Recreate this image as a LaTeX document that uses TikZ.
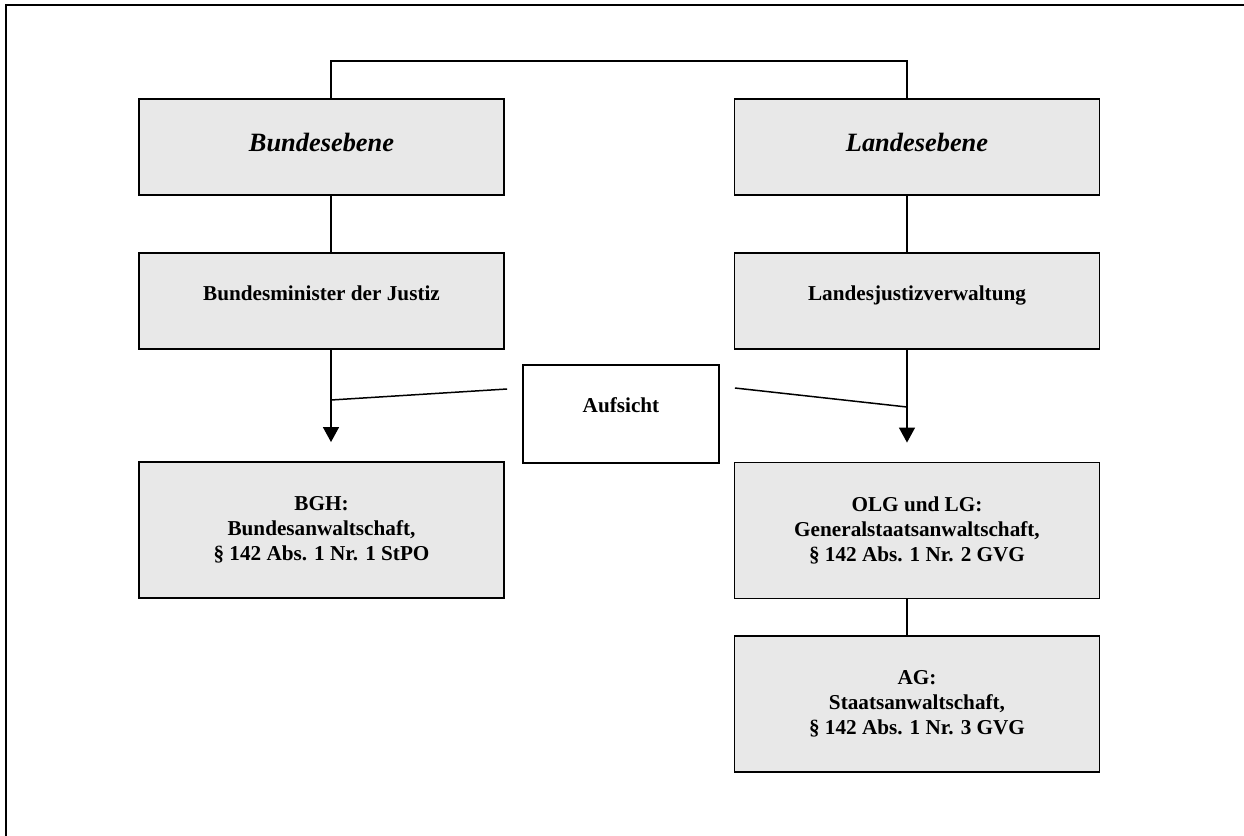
\documentclass[tikz,border=0pt]{standalone}
\usepackage{fontspec}
\setmainfont{Liberation Serif}
\usetikzlibrary{arrows.meta,calc}
\definecolor{boxgray}{RGB}{232,232,232}
\begin{document}
\begin{tikzpicture}[x=0.5pt,y=-0.5pt,
  box/.style={draw=black, line width=0.95pt, fill=boxgray, inner sep=0pt,
    minimum width=182.5pt, align=center,
    font=\fontsize{10.6}{12.5}\selectfont\bfseries},
  headbox/.style={box, text height=26pt, text depth=22pt,
    font=\fontsize{13.2}{15}\selectfont\bfseries\itshape},
  midbox/.style={box, text height=23.5pt, text depth=24.5pt},
  lowbox/.style={box, minimum height=68pt},
  notebox/.style={box, fill=white, minimum width=98pt,
    text height=23.5pt, text depth=25.5pt},
  link/.style={draw=black, line width=0.75pt},
  oversight/.style={link, -{Triangle[width=8pt,length=7.5pt]}, shorten >=9.5pt},
]
\useasboundingbox (0,0) rectangle (1244,836);
% page frame
\draw[line width=1.1pt] (6,836) -- (6,5) -- (1244,5);

% boxes
\node[headbox] (bund) at (321.5,147) {Bundesebene};
\node[headbox] (land) at (917,147) {Landesebene};
\node[midbox] (bmj) at (321.5,301) {Bundesminister der Justiz};
\node[midbox] (lj) at (917,301) {Landesjustizverwaltung};
\node[notebox] (aufs) at (621,414) {Aufsicht};
\node[lowbox] (bgh) at (321.5,530) {BGH:\\Bundesanwaltschaft,\\§ 142 Abs. 1 Nr. 1 StPO};
\node[lowbox] (olg) at (917,530.5) {OLG und LG:\\Generalstaatsanwaltschaft,\\§ 142 Abs. 1 Nr. 2 GVG};
\node[lowbox] (ag) at (917,704) {AG:\\Staatsanwaltschaft,\\§ 142 Abs. 1 Nr. 3 GVG};

% connector columns
\coordinate (stemL) at (331,0);
\coordinate (stemR) at (907,0);
\coordinate (bar) at (0,61);
\coordinate (jL) at (331,400);
\coordinate (jR) at (907,407);

\draw[link] (bund.north -| stemL) -- (stemL |- bar) -- (stemR |- bar) -- (land.north -| stemR);
\draw[link] (bund.south -| stemL) -- (bmj.north -| stemL);
\draw[link] (land.south -| stemR) -- (lj.north -| stemR);
\draw[oversight] (bmj.south -| stemL) -- (bgh.north -| stemL);
\draw[oversight] (lj.south -| stemR) -- (olg.north -| stemR);
\draw[link] (olg.south -| stemR) -- (ag.north -| stemR);

% supervision lines
\draw[link] ($(aufs.west)+(-15,-25)$) -- (jL);
\draw[link] ($(aufs.east)+(15,-26)$) -- (jR);
\end{tikzpicture}
\end{document}
